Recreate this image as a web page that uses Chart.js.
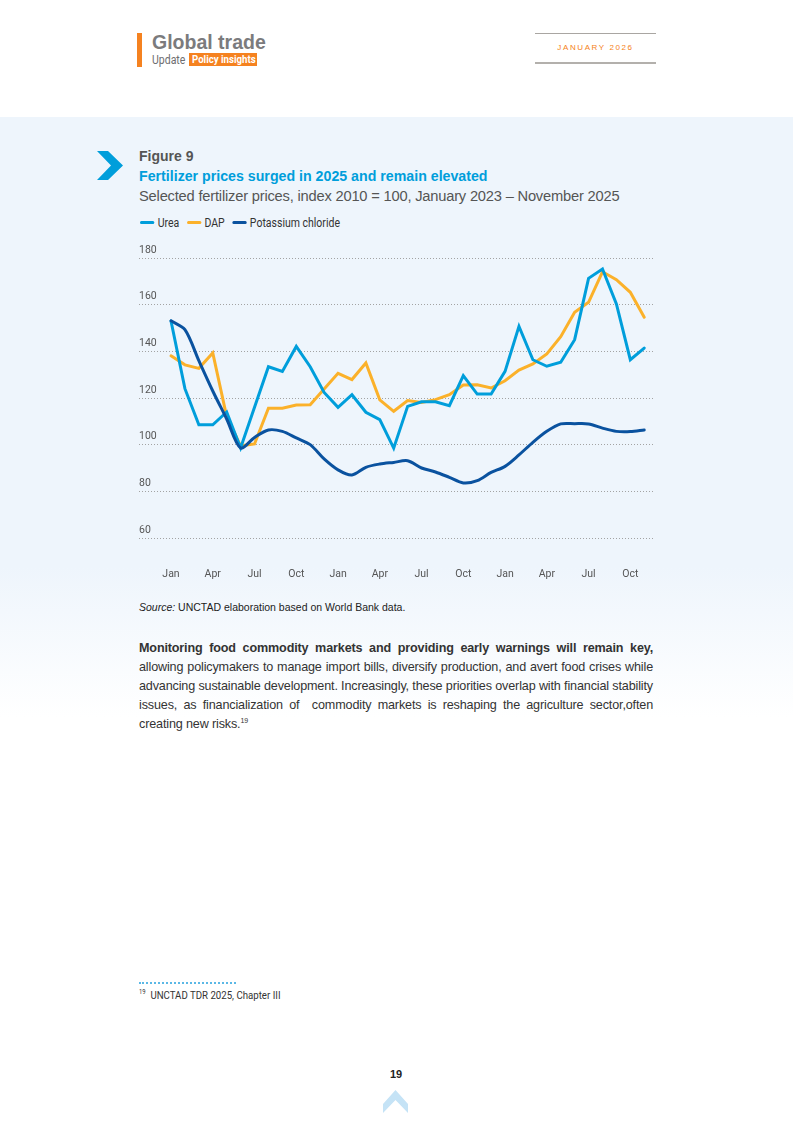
<!DOCTYPE html>
<html>
<head>
<meta charset="utf-8">
<script src="https://cdn.jsdelivr.net/npm/chart.js@4.4.1/dist/chart.umd.min.js"></script>
<style>
    body { margin: 0; width: 793px; height: 1121px; position: relative; background: #fff; font-family: "Liberation Sans", Arial, sans-serif; overflow: hidden; }
    .abs { position: absolute; }
    .band { left: 0; top: 117px; width: 793px; height: 600px; background: linear-gradient(to bottom, #eef5fc 0px, #eef5fc 450px, #ffffff 600px); }
    .narrow { font-family: Roboto, sans-serif; transform-origin: left top; transform: scaleX(0.84); white-space: nowrap; }
    .legend span.sw { display: inline-block; width: 17px; height: 3px; border-radius: 2px; vertical-align: middle; margin-right: 4px; position: relative; top: -1px; }
    .legend span.item { margin-right: 9px; }
    sup { font-size: 7px; line-height: 0; vertical-align: 5px; }
</style>
</head>
<body>
<div class="abs band"></div>

<!-- header -->
<div class="abs" style="left:137px;top:33px;width:5px;height:34px;background:#f58220;"></div>
<div class="abs" style="left:152px;top:31px;font-size:19.5px;font-weight:bold;color:#7b7b7d;">Global trade</div>
<div class="abs narrow" style="left:152px;top:52px;font-size:12.5px;color:#6d6d6f;">Update</div>
<div class="abs" style="left:189px;top:53px;width:68px;height:13px;background:#f58220;"></div>
<div class="abs narrow" style="left:192px;top:53px;color:#fff;font-size:11.5px;font-weight:bold;line-height:13px;">Policy insights</div>
<div class="abs" style="left:535px;top:33px;width:121px;height:1px;background:#a9a6a2;"></div>
<div class="abs" style="left:535px;top:62px;width:121px;height:2px;background:#b3b0ac;"></div>
<div class="abs" style="left:535px;top:43px;width:121px;text-align:center;font-size:8px;letter-spacing:1.6px;color:#f58220;">JANUARY 2026</div>

<!-- figure heading -->
<svg class="abs" style="left:97px;top:151px;" width="28" height="30"><polygon points="0,0 11,0 26,14.5 11,29 0,29 14,14.5" fill="#009edb"/></svg>
<div class="abs" style="left:139px;top:148px;font-size:14px;font-weight:bold;color:#555;">Figure 9</div>
<div class="abs" style="left:139px;top:168px;font-size:14.2px;font-weight:bold;color:#009edb;">Fertilizer prices surged in 2025 and remain elevated</div>
<div class="abs" style="left:139px;top:188px;font-size:14.7px;color:#555;letter-spacing:-0.2px;">Selected fertilizer prices, index 2010 = 100, January 2023 – November 2025</div>
<div class="abs legend narrow" id="legend" style="left:140px;top:215px;font-size:12.5px;color:#333;"></div>

<canvas id="fertChart" class="abs" style="left:130px;top:240px;" width="530" height="350"></canvas>

<div class="abs" style="left:139px;top:601px;font-size:10.5px;color:#222;"><i>Source:</i> UNCTAD elaboration based on World Bank data.</div>

<div class="abs" style="left:139px;top:639px;width:514px;font-size:12.6px;letter-spacing:-0.15px;line-height:19px;color:#333;text-align:justify;">
<b>Monitoring food commodity markets and providing early warnings will remain key,</b> allowing policymakers to manage import bills, diversify production, and avert food crises while advancing sustainable development. Increasingly, these priorities overlap with financial stability issues, as financialization of &nbsp;commodity markets is reshaping the agriculture sector,often creating new risks.<sup>19</sup>
</div>

<!-- footnote -->
<div class="abs" style="left:139px;top:982px;width:97px;border-top:2px dotted #5bb8e6;"></div>
<div class="abs narrow" style="left:139px;top:988px;font-size:11.5px;color:#333;"><sup>19</sup>&nbsp; UNCTAD TDR 2025, Chapter III</div>

<div class="abs" style="left:380px;top:1068px;width:32px;text-align:center;font-size:11px;font-weight:bold;color:#222;">19</div>
<svg class="abs" style="left:383px;top:1090px;" width="26" height="24"><polygon points="0,14 12.5,0 25,14 25,23 12.5,10 0,23" fill="#c5e3f6"/></svg>

<script>
// month labels, Jan 2023 .. Nov 2025
const months = ['Jan','Feb','Mar','Apr','May','Jun','Jul','Aug','Sep','Oct','Nov','Dec',
                'Jan','Feb','Mar','Apr','May','Jun','Jul','Aug','Sep','Oct','Nov','Dec',
                'Jan','Feb','Mar','Apr','May','Jun','Jul','Aug','Sep','Oct','Nov'];

const urea = [153, 124, 108.5, 108.5, 114, 98.6, 116, 133.4, 131.4, 142.1, 133.4, 122.4,
              116, 121.4, 113.9, 110.7, 98.5, 116.4, 118.4, 118.4, 116.7, 129.6, 121.7, 121.7,
              131.4, 150.7, 136.4, 133.6, 135.3, 145, 171.3, 175.3, 160.3, 136.4, 141.4];

const dap = [138.1, 134.2, 132.7, 139.3, 112, 99.5, 100.3, 115.6, 115.6, 117, 117.1, 123.9,
             130.6, 127.9, 135, 119.2, 114.3, 118.9, 118.1, 119.3, 121.4, 125.6, 125.7, 124.3,
             127.4, 132, 134.6, 138.9, 146.3, 156.7, 161, 174.1, 170.7, 165.3, 154.6];

const potash = [153.1, 149.3, 136, 123, 111, 98.6, 103.1, 106.3, 105.7, 102.9, 100, 93.9,
                89.2, 87, 90.3, 91.7, 92.4, 93.1, 90, 88.3, 86, 83.6, 84.6, 88.1,
                90.7, 95.6, 101, 105.7, 108.9, 109, 108.9, 107.1, 105.7, 105.6, 106.3];

const yTicks = [60, 80, 100, 120, 140, 160, 180];

const seriesNames = ['Urea', 'DAP', 'Potassium chloride'];
const seriesColors = ['#009edb', '#fbb12a', '#0a529f'];

function toPoints(arr) {
    return arr.map((v, i) => ({ x: i, y: v }));
}

document.addEventListener('DOMContentLoaded', function() {
    buildLegend();
    initFertilizerChart();
});

function buildLegend() {
    const el = document.getElementById('legend');
    el.innerHTML = seriesNames.map((n, i) =>
        `<span class="item"><span class="sw" style="background:${seriesColors[i]}"></span>${n}</span>`
    ).join('');
}

function initFertilizerChart() {
    const ctx = document.getElementById('fertChart').getContext('2d');
    const tickFont = { family: 'Roboto, sans-serif', size: 10.5 };

    new Chart(ctx, {
        type: 'line',
        data: {
            datasets: [
                { label: seriesNames[0], data: toPoints(urea), borderColor: seriesColors[0], order: 1, tension: 0 },
                { label: seriesNames[1], data: toPoints(dap), borderColor: seriesColors[1], order: 2, tension: 0 },
                { label: seriesNames[2], data: toPoints(potash), borderColor: seriesColors[2], order: 0, tension: 0.3 }
            ]
        },
        options: {
            responsive: false,
            animation: false,
            layout: { padding: { left: 9, right: 7, top: 18, bottom: 0 } },
            elements: {
                point: { radius: 0 },
                line: { borderWidth: 3, borderCapStyle: 'round', borderJoinStyle: 'miter' }
            },
            plugins: {
                legend: { display: false },
                tooltip: { enabled: false }
            },
            scales: {
                x: {
                    type: 'linear',
                    min: -2.3,
                    max: 34.63,
                    grid: { display: false, drawTicks: false },
                    border: { display: false },
                    afterBuildTicks: function(scale) {
                        const t = [];
                        for (let i = 0; i < months.length; i += 3) t.push({ value: i });
                        scale.ticks = t;
                    },
                    afterFit: function(scale) {
                        scale.height = 52;
                        scale.paddingLeft = 0;
                        scale.paddingRight = 0;
                    },
                    ticks: {
                        autoSkip: false,
                        maxRotation: 0,
                        padding: 30,
                        color: '#555',
                        font: tickFont,
                        callback: function(value) { return months[value] || ''; }
                    }
                },
                y: {
                    min: yTicks[0],
                    max: yTicks[yTicks.length - 1],
                    afterBuildTicks: function(scale) {
                        scale.ticks = yTicks.map(v => ({ value: v }));
                    },
                    afterFit: function(scale) { scale.width = 0; },
                    grid: { color: '#a3a3a3', lineWidth: 1, drawTicks: false },
                    border: { display: false, dash: [1, 2] },
                    ticks: {
                        mirror: true,
                        padding: 0,
                        labelOffset: -8,
                        color: '#555',
                        font: tickFont
                    }
                }
            }
        }
    });
}
</script>
</body>
</html>
